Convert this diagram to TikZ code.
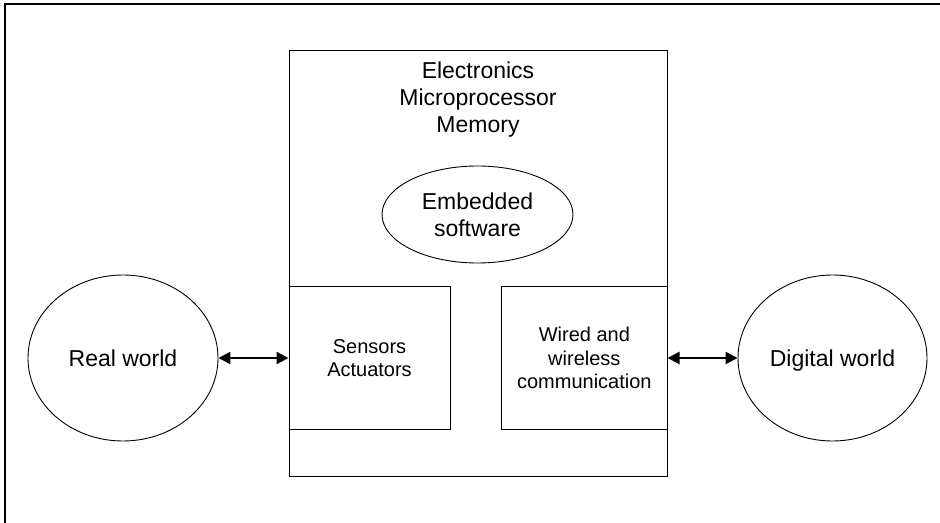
\documentclass[tikz,border=0pt]{standalone}
\usepackage{fontspec}
\setmainfont{Liberation Sans}
\usetikzlibrary{shapes.geometric,arrows.meta}

\tikzset{
  bigtext/.style={font=\fontsize{23bp}{26.6bp}\selectfont},
  smalltext/.style={font=\fontsize{20bp}{23.2bp}\selectfont},
  world/.style={draw, ellipse, line width=0.9bp, inner sep=0pt,
                bigtext, text height=16.5bp, text depth=0bp},
  unitbox/.style={draw, rectangle, line width=1bp, inner sep=0pt,
                  smalltext, align=center},
  link/.style={line width=2.3bp, {Triangle[length=12bp,width=12bp]}-{Triangle[length=12bp,width=12bp]}}
}

\begin{document}
\begin{tikzpicture}[x=1bp,y=-1bp]
  \useasboundingbox (0,0) rectangle (940,523);

  % partial page frame
  \coordinate (frameTR) at (940,4);
  \coordinate (frameTL) at (5,4);
  \coordinate (frameBL) at (5,523);
  \draw[line width=1.3bp] (frameTR) -- (frameTL) -- (frameBL);

  % embedded system enclosure
  \node[draw, rectangle, line width=1bp, minimum width=378bp, minimum height=425bp,
        inner sep=0pt] (system) at (478,263.5) {};
  \node[bigtext, align=center] (electronics) at (478,99.5)
        {Electronics\\Microprocessor\\Memory};

  \node[draw, ellipse, line width=0.9bp, minimum width=191bp, minimum height=97bp,
        inner sep=0pt, bigtext, align=center] (software) at (477.5,214.5)
        {Embedded\\software};

  % interface blocks
  \node[unitbox, minimum width=161bp, minimum height=142bp] (sensors) at (369.5,358)
        {Sensors\\Actuators};
  \node[unitbox, minimum width=165.3bp, minimum height=142bp] (comms) at (584.35,358)
        {Wired and\\wireless\\communication};

  % surrounding worlds
  \node[world, minimum width=190bp, minimum height=166bp] (real) at (123,358) {Real world};
  \node[world, minimum width=189bp, minimum height=166bp] (digital) at (832.5,358) {Digital world};

  % two-way links
  \draw[link] (real.east) -- (sensors.west);
  \draw[link] (comms.east) -- (digital.west);
\end{tikzpicture}
\end{document}
